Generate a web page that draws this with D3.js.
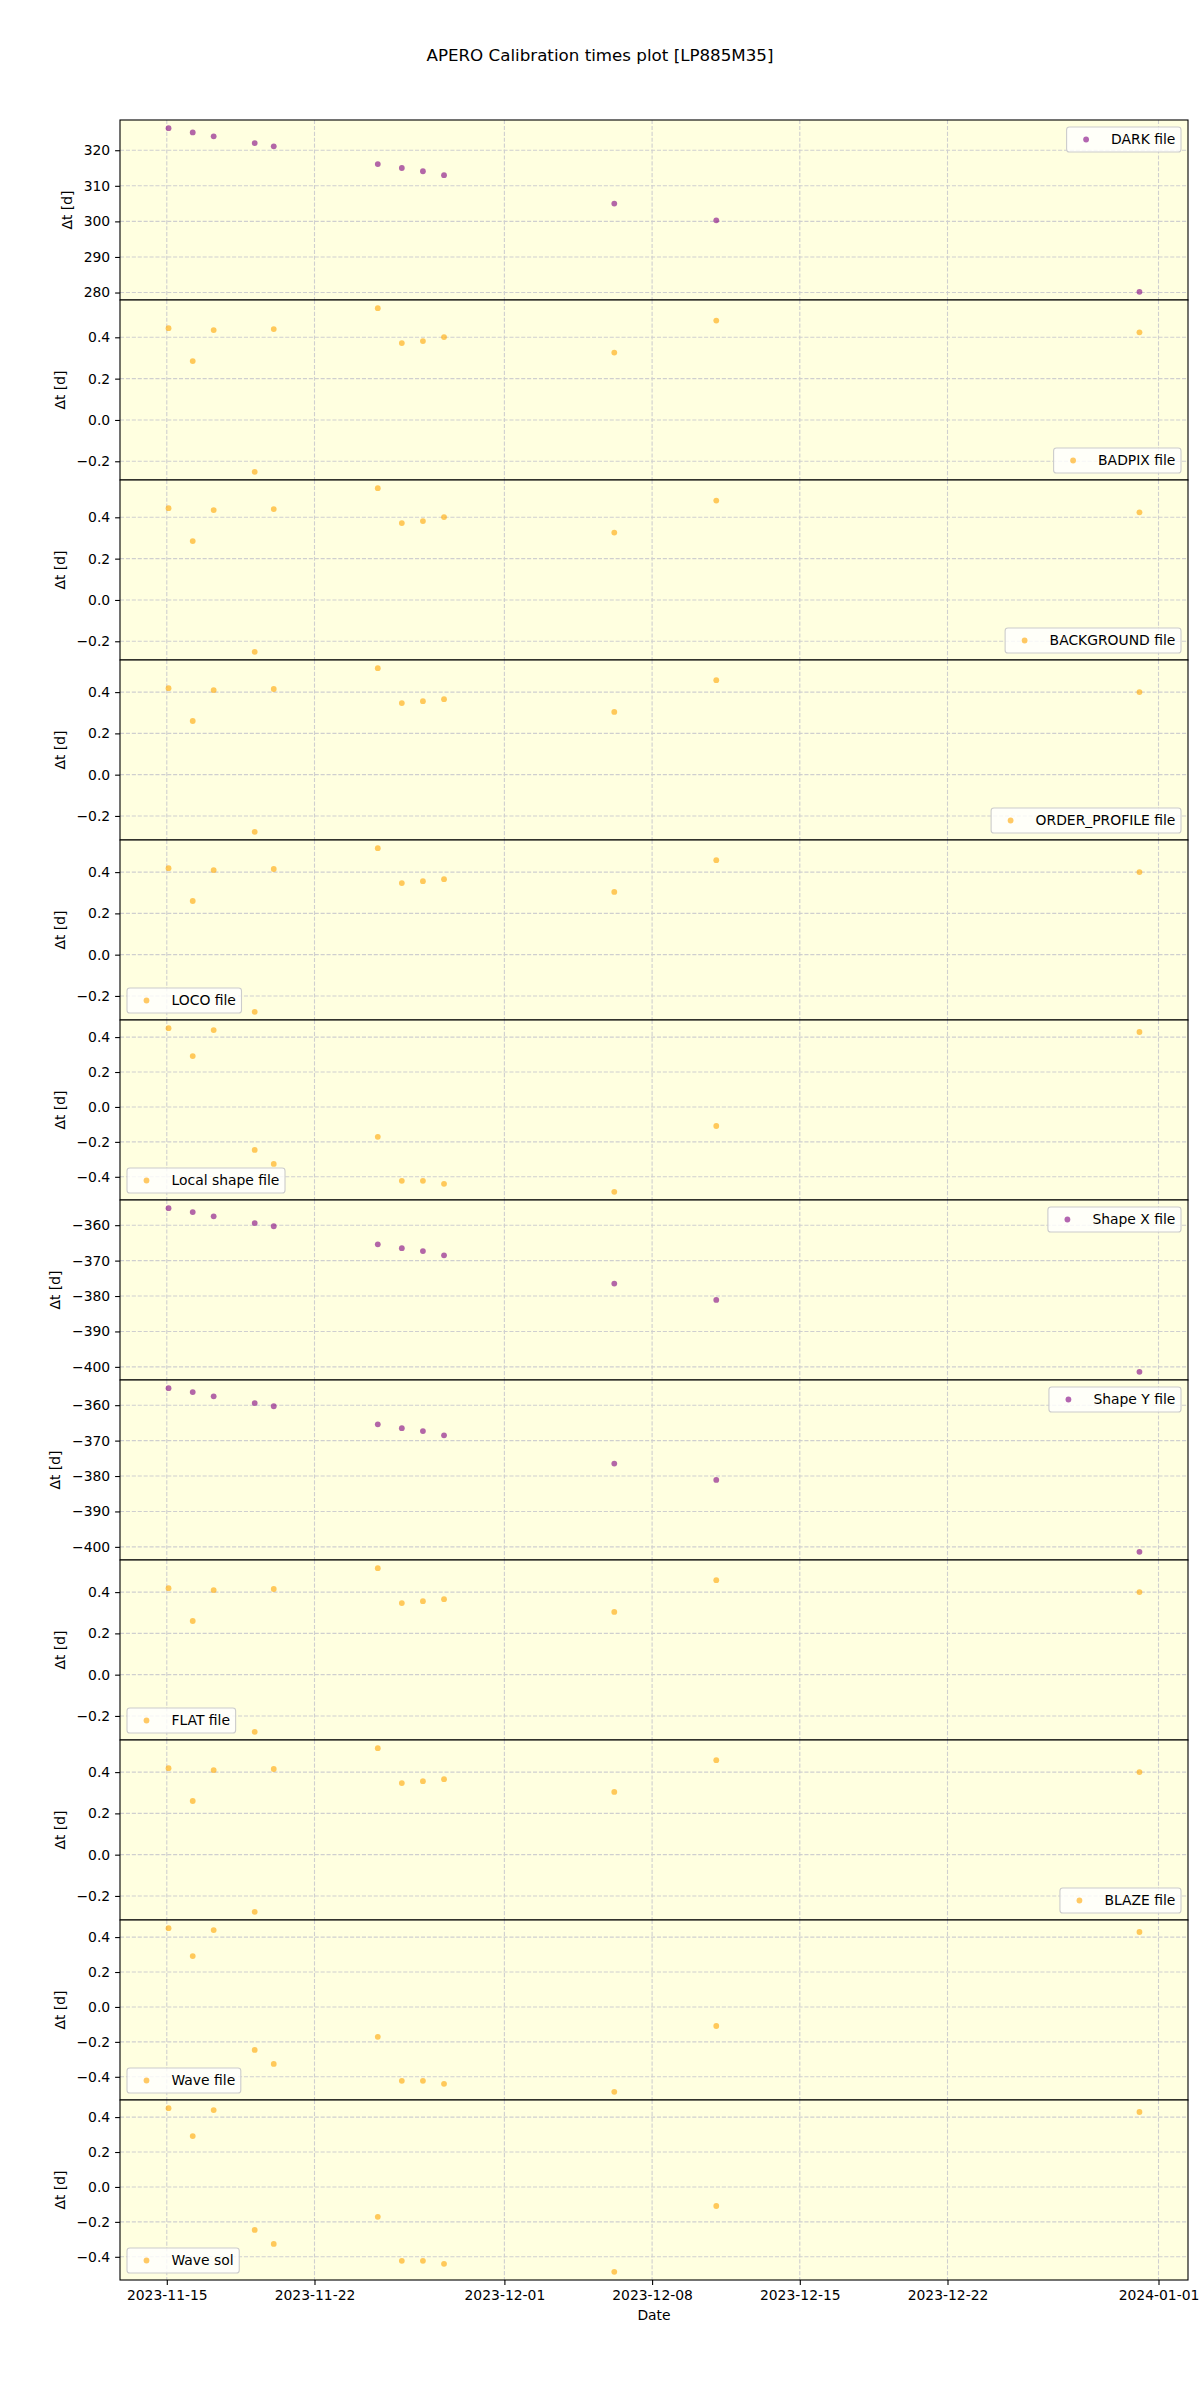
<!DOCTYPE html>
<html>
<head>
<meta charset="utf-8">
<script src="https://cdn.jsdelivr.net/npm/d3@7"></script>
<style>
  body { margin: 0; background: #fff; }
  svg { font-family: "DejaVu Sans", sans-serif; }
</style>
</head>
<body>
<svg id="chart"></svg>
<script>
// observation times (UTC)
const dates = ["2023-11-15T02:00", "2023-11-16T05:30", "2023-11-17T05:20", "2023-11-19T04:00",
  "2023-11-20T01:40", "2023-11-25T00:00", "2023-11-26T03:20", "2023-11-27T03:20",
  "2023-11-28T03:20", "2023-12-06T05:00", "2023-12-11T01:00", "2023-12-31T02:20"];

// Δt values per calibration file, in days
const darkVals = [326.2, 325.0, 323.9, 322.0, 321.1, 316.1, 315.0, 314.1, 313.0, 305.0, 300.3, 280.2];
const badpixVals = [0.444, 0.285, 0.435, -0.251, 0.440, 0.541, 0.372, 0.382, 0.401, 0.326, 0.481, 0.424];
const backgroundVals = [0.444, 0.285, 0.435, -0.251, 0.440, 0.541, 0.372, 0.382, 0.401, 0.326, 0.481, 0.424];
const orderProfileVals = [0.419, 0.260, 0.410, -0.277, 0.415, 0.516, 0.347, 0.356, 0.366, 0.304, 0.458, 0.400];
const locoVals = [0.419, 0.260, 0.410, -0.277, 0.415, 0.516, 0.347, 0.356, 0.366, 0.304, 0.458, 0.400];
const localShapeVals = [0.451, 0.291, 0.440, -0.246, -0.326, -0.171, -0.423, -0.423, -0.440, -0.486, -0.109, 0.429];
const shapeXVals = [-355.2, -356.3, -357.5, -359.4, -360.3, -365.4, -366.5, -367.3, -368.5, -376.5, -381.1, -401.4];
const shapeYVals = [-355.2, -356.3, -357.5, -359.4, -360.3, -365.4, -366.5, -367.3, -368.5, -376.5, -381.1, -401.4];
const flatVals = [0.419, 0.260, 0.410, -0.277, 0.415, 0.516, 0.347, 0.356, 0.366, 0.304, 0.458, 0.400];
const blazeVals = [0.419, 0.260, 0.410, -0.277, 0.415, 0.516, 0.347, 0.356, 0.366, 0.304, 0.458, 0.400];
const waveFileVals = [0.451, 0.291, 0.440, -0.246, -0.326, -0.171, -0.423, -0.423, -0.440, -0.486, -0.109, 0.429];
const waveSolVals = [0.451, 0.291, 0.440, -0.246, -0.326, -0.171, -0.423, -0.423, -0.440, -0.486, -0.109, 0.429];

const panelLabels = ["DARK file", "BADPIX file", "BACKGROUND file", "ORDER_PROFILE file", "LOCO file",
  "Local shape file", "Shape X file", "Shape Y file", "FLAT file", "BLAZE file", "Wave file", "Wave sol"];
const panelValues = [darkVals, badpixVals, backgroundVals, orderProfileVals, locoVals, localShapeVals,
  shapeXVals, shapeYVals, flatVals, blazeVals, waveFileVals, waveSolVals];
const panelColors = ["purple", "orange", "orange", "orange", "orange", "orange",
  "purple", "purple", "orange", "orange", "orange", "orange"];
const legendPos = ["ur", "lr", "lr", "lr", "ll", "ll", "ur", "ur", "ll", "lr", "ll", "ll"];

const xTickLabels = ["2023-11-15", "2023-11-22", "2023-12-01", "2023-12-08", "2023-12-15", "2023-12-22", "2024-01-01"];

// layout
const width = 1200, height = 2400;
const marginLeft = 120, marginRight = 12, marginTop = 120;
const panelH = 180;
const fs = 13.9;
const dotR = 2.9;

const parseT = d3.utcParse("%Y-%m-%dT%H:%M");
const parseD = d3.utcParse("%Y-%m-%d");
const times = dates.map(parseT);

const svg = d3.select("#chart")
    .attr("width", width)
    .attr("height", height)
    .attr("viewBox", `0 0 ${width} ${height}`);

// x scale with matplotlib-like 5% margins
const [t0, t1] = d3.extent(times);
const pad = (t1 - t0) * 0.05;
const x = d3.scaleUtc()
    .domain([new Date(+t0 - pad), new Date(+t1 + pad)])
    .range([marginLeft, width - marginRight]);
const xTicks = xTickLabels.map(parseD);

svg.append("text")
    .attr("x", 600)
    .attr("y", 61)
    .attr("text-anchor", "middle")
    .attr("font-size", 16.7)
    .attr("fill", "#000")
    .text("APERO Calibration times plot [LP885M35]");

panelValues.forEach((vals, i) => {
  const top = marginTop + i * panelH;
  const bottom = top + panelH;
  const [v0, v1] = d3.extent(vals);
  const vp = (v1 - v0) * 0.05;
  const y = d3.scaleLinear().domain([v0 - vp, v1 + vp]).range([bottom, top]);
  const g = svg.append("g");

  g.append("rect")
      .attr("x", marginLeft).attr("y", top)
      .attr("width", width - marginRight - marginLeft).attr("height", panelH)
      .attr("fill", "lightyellow");

  // grid
  const yTicks = y.ticks(5);
  g.append("g").selectAll("line").data(yTicks).join("line")
      .attr("x1", marginLeft).attr("x2", width - marginRight)
      .attr("y1", d => y(d)).attr("y2", d => y(d))
      .attr("stroke", "#cfcfcf").attr("stroke-width", 1.1).attr("stroke-dasharray", "4.1,1.8");
  g.append("g").selectAll("line").data(xTicks).join("line")
      .attr("x1", d => x(d)).attr("x2", d => x(d))
      .attr("y1", top).attr("y2", bottom)
      .attr("stroke", "#cfcfcf").attr("stroke-width", 1.1).attr("stroke-dasharray", "4.1,1.8");

  // y axis
  const ya = g.append("g")
      .attr("transform", `translate(${marginLeft},0)`)
      .call(d3.axisLeft(y).ticks(5).tickSize(4.9).tickPadding(4.9).tickFormat(y.tickFormat(5)))
      .call(a => a.select(".domain").remove())
      .call(a => a.selectAll("line").attr("stroke", "#000").attr("stroke-width", 1.1))
      .call(a => a.selectAll("text").attr("font-size", fs).attr("fill", "#000")
          .attr("font-family", "DejaVu Sans"));

  // y label sits left of the widest tick label
  let maxW = 0;
  ya.selectAll("text").each(function() { maxW = Math.max(maxW, this.getComputedTextLength()); });
  const labelX = marginLeft - 9.8 - maxW - 5.6 - 11;

  g.append("text")
      .attr("transform", `translate(${labelX},${(top + bottom) / 2}) rotate(-90)`)
      .attr("text-anchor", "middle")
      .attr("dy", "0.35em")
      .attr("font-size", fs)
      .text("Δt [d]");

  // points
  g.append("g")
      .attr("fill", panelColors[i])
      .attr("fill-opacity", 0.6)
    .selectAll("circle")
    .data(vals)
    .join("circle")
      .attr("cx", (d, j) => x(times[j]))
      .attr("cy", d => y(d))
      .attr("r", dotR);

  // frame
  g.append("rect")
      .attr("x", marginLeft).attr("y", top)
      .attr("width", width - marginRight - marginLeft).attr("height", panelH)
      .attr("fill", "none").attr("stroke", "#000").attr("stroke-width", 1.1);

  // legend
  const lg = g.append("g");
  const box = lg.append("rect")
      .attr("fill", "#fff").attr("fill-opacity", 0.8)
      .attr("stroke", "#cccccc").attr("stroke-width", 1.1).attr("rx", 2.8);
  const txt = lg.append("text")
      .attr("font-size", fs)
      .attr("dy", "0.35em")
      .text(panelLabels[i]);
  const tw = txt.node().getComputedTextLength();
  const bw = 5.6 + 27.8 + 11.1 + tw + 5.6, bh = 25;
  const pos = legendPos[i];
  const bx = pos === "ll" ? marginLeft + 7 : width - marginRight - 7 - bw;
  const by = pos === "ur" ? top + 7 : bottom - 7 - bh;
  box.attr("x", bx).attr("y", by).attr("width", bw).attr("height", bh);
  lg.append("circle")
      .attr("cx", bx + 5.6 + 13.9).attr("cy", by + bh / 2).attr("r", dotR)
      .attr("fill", panelColors[i]).attr("fill-opacity", 0.6);
  txt.attr("x", bx + 5.6 + 27.8 + 11.1).attr("y", by + bh / 2);

  // x axis on bottom panel only
  if (i === panelValues.length - 1) {
    svg.append("g")
        .attr("transform", `translate(0,${bottom})`)
        .call(d3.axisBottom(x).tickValues(xTicks).tickSize(4.9).tickPadding(4.9)
            .tickFormat(d3.utcFormat("%Y-%m-%d")))
        .call(a => a.select(".domain").remove())
        .call(a => a.selectAll("line").attr("stroke", "#000").attr("stroke-width", 1.1))
        .call(a => a.selectAll("text").attr("font-size", fs).attr("fill", "#000")
            .attr("font-family", "DejaVu Sans"));
    svg.append("text")
        .attr("x", (marginLeft + width - marginRight) / 2)
        .attr("y", bottom + 40)
        .attr("text-anchor", "middle")
        .attr("font-size", fs)
        .text("Date");
  }
});
</script>
</body>
</html>
